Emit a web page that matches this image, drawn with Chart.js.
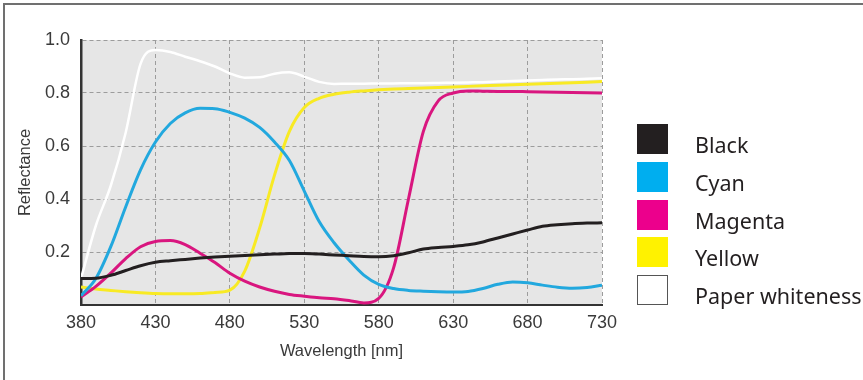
<!DOCTYPE html>
<html>
<head>
<meta charset="utf-8">
<script src="https://cdn.jsdelivr.net/npm/chart.js@4.4.0/dist/chart.umd.min.js"></script>
<style>
  body { margin: 0; background: #fff; }
  #wrap { position: relative; width: 863px; height: 380px; overflow: hidden; }
  #frame { position: absolute; left: 3px; top: 3px; width: 870px; height: 390px;
           border-top: 2px solid #707070; border-left: 2px solid #707070; }
  #chart { position: absolute; left: 0; top: 0; }
  .key { position: absolute; left: 637px; height: 30px; }
  .key .box { position: absolute; left: 0; top: 0; width: 31px; height: 30px; box-sizing: border-box; }
  .key .txt { position: absolute; left: 58px; top: 6px; white-space: nowrap;
              font: 21.5px "Noto Sans", sans-serif; line-height: 30px; color: #231f20; }
</style>
</head>
<body>
<div id="wrap">
  <div id="frame"></div>
  <canvas id="chart" width="863" height="380"></canvas>
  <div id="legend"></div>
</div>
<script>
// wavelength grid in nm
const wavelengths = [380, 390, 400, 410, 420, 430, 440, 450, 460, 470, 480, 490,
  500, 510, 520, 530, 540, 550, 560, 570, 580, 590, 600, 610, 620, 630, 640, 650,
  660, 670, 680, 690, 700, 710, 720, 730];

// measured reflectance per ink
const black = [0.100, 0.101, 0.112, 0.130, 0.148, 0.161, 0.167, 0.172, 0.177, 0.181,
  0.184, 0.187, 0.190, 0.192, 0.194, 0.194, 0.192, 0.189, 0.186, 0.183, 0.182, 0.186,
  0.197, 0.211, 0.217, 0.221, 0.227, 0.238, 0.253, 0.268, 0.283, 0.297, 0.303, 0.307,
  0.309, 0.310];
const cyan = [0.035, 0.100, 0.220, 0.370, 0.510, 0.615, 0.685, 0.725, 0.742, 0.741,
  0.727, 0.705, 0.670, 0.615, 0.545, 0.430, 0.315, 0.235, 0.170, 0.113, 0.078, 0.062,
  0.055, 0.052, 0.050, 0.049, 0.051, 0.062, 0.078, 0.087, 0.084, 0.075, 0.067, 0.063,
  0.066, 0.075];
const magenta = [0.030, 0.070, 0.120, 0.175, 0.220, 0.240, 0.243, 0.228, 0.195, 0.160,
  0.120, 0.090, 0.068, 0.052, 0.040, 0.033, 0.027, 0.024, 0.017, 0.008, 0.025, 0.140,
  0.400, 0.655, 0.770, 0.800, 0.808, 0.807, 0.806, 0.806, 0.805, 0.804, 0.803, 0.802,
  0.801, 0.800];
const yellow = [0.068, 0.060, 0.055, 0.050, 0.046, 0.043, 0.042, 0.042, 0.043, 0.047,
  0.056, 0.128, 0.290, 0.490, 0.655, 0.745, 0.780, 0.795, 0.803, 0.808, 0.812, 0.815,
  0.817, 0.819, 0.821, 0.823, 0.825, 0.827, 0.829, 0.831, 0.833, 0.835, 0.837, 0.839,
  0.841, 0.843];
const paper = [0.100, 0.300, 0.450, 0.650, 0.910, 0.962, 0.955, 0.937, 0.920, 0.900,
  0.874, 0.858, 0.859, 0.873, 0.878, 0.862, 0.842, 0.834, 0.835, 0.835, 0.836, 0.836,
  0.837, 0.837, 0.838, 0.839, 0.840, 0.841, 0.843, 0.845, 0.847, 0.849, 0.851, 0.852,
  0.854, 0.856];

const seriesNames = ["Black", "Cyan", "Magenta", "Yellow", "Paper whiteness"];
const lineColors = ["#231f20", "#22a8de", "#d9167f", "#f8ea24", "#ffffff"];
const keyColors = ["#231f20", "#00aeef", "#ec008c", "#fff200", "#ffffff"];
const xTicks = [380, 430, 480, 530, 580, 630, 680, 730];

const allSeries = [black, cyan, magenta, yellow, paper];

function points(values) {
  return values.map((v, i) => ({ x: wavelengths[i], y: v }));
}

// grey plot background
const plotBg = {
  id: "plotBg",
  beforeDraw(chart) {
    const { ctx, chartArea: a } = chart;
    ctx.save();
    ctx.fillStyle = "#e6e6e6";
    ctx.fillRect(a.left, a.top, a.right - a.left, a.bottom - a.top);
    ctx.restore();
  }
};

const tickFont = { family: "'Liberation Sans', Arial, sans-serif", size: 18 };
const titleFont = { family: "'Liberation Sans', Arial, sans-serif", size: 16.5 };

new Chart(document.getElementById("chart"), {
  type: "line",
  data: {
    datasets: allSeries.map((s, i) => ({
      label: seriesNames[i],
      data: points(s),
      borderColor: lineColors[i],
      borderWidth: i === 4 ? 2.5 : 3,
      pointRadius: 0,
      cubicInterpolationMode: "monotone",
      fill: false
    }))
  },
  options: {
    responsive: false,
    animation: false,
    layout: { padding: { left: 0, top: 40, right: 261, bottom: 0 } },
    plugins: { legend: { display: false }, tooltip: { enabled: false } },
    scales: {
      x: {
        type: "linear",
        min: 380,
        max: 730,
        afterBuildTicks: (s) => { s.ticks = xTicks.map((v) => ({ value: v })); },
        afterFit: (s) => { s.height = 75; },
        grid: { color: "#9c9c9c", lineWidth: 1, drawTicks: false },
        border: { color: "#333", width: 2, dash: [4, 3] },
        ticks: { color: "#3a3a3a", font: tickFont, padding: 7, maxRotation: 0 },
        title: { display: true, text: "Wavelength [nm]", color: "#3a3a3a",
                 font: titleFont, padding: { top: 0, bottom: 19 } }
      },
      y: {
        min: 0,
        max: 1,
        afterFit: (s) => { s.width = 81; },
        grid: { color: "#9c9c9c", lineWidth: 1, drawTicks: false },
        border: { color: "#333", width: 2.5, dash: [4, 3] },
        ticks: {
          stepSize: 0.2,
          color: "#3a3a3a",
          font: tickFont,
          padding: 11,
          callback: (v) => (v === 0 ? "" : v.toFixed(1))
        },
        title: { display: true, text: "Reflectance", color: "#3a3a3a",
                 font: titleFont, padding: { top: 16, bottom: 0 } }
      }
    }
  },
  plugins: [plotBg]
});

// legend on the right
const legend = document.getElementById("legend");
seriesNames.forEach((name, i) => {
  const row = document.createElement("div");
  row.className = "key";
  row.style.top = (124 + i * 37.8) + "px";
  const box = document.createElement("div");
  box.className = "box";
  box.style.background = keyColors[i];
  box.style.border = i === 4 ? "1.5px solid #555" : "none";
  const txt = document.createElement("div");
  txt.className = "txt";
  txt.textContent = name;
  row.appendChild(box);
  row.appendChild(txt);
  legend.appendChild(row);
});
</script>
</body>
</html>
